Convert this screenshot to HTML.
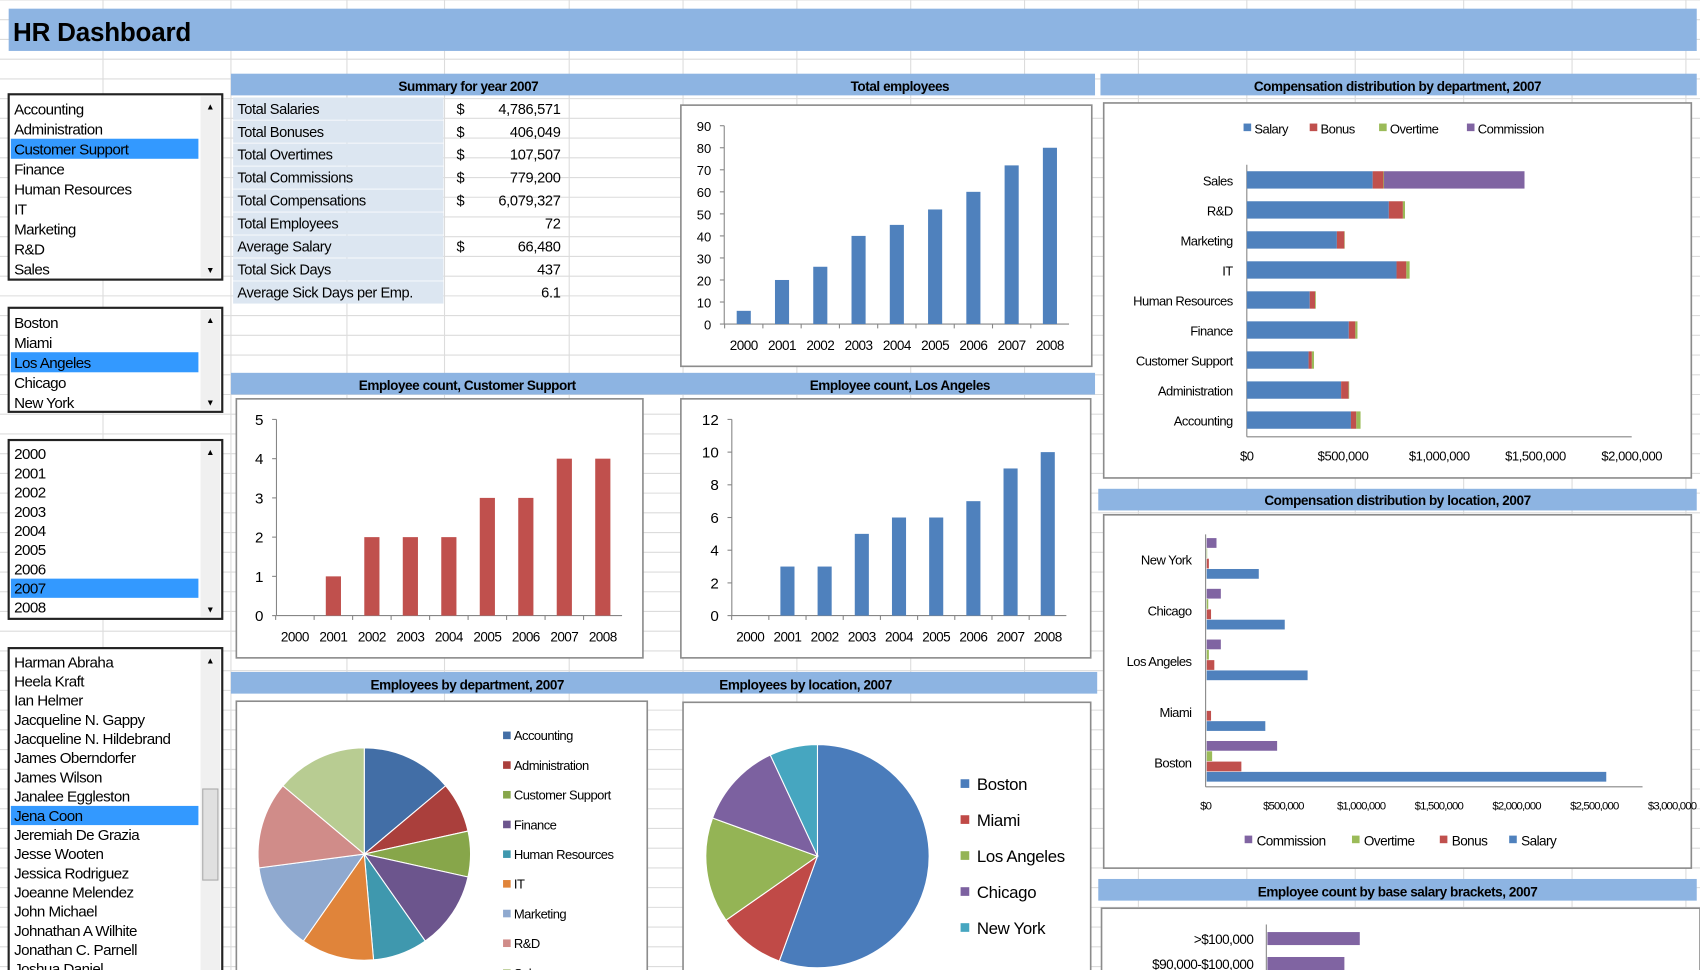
<!DOCTYPE html>
<html><head><meta charset="utf-8"><title>HR Dashboard</title>
<style>
html,body{margin:0;padding:0;background:#fff;overflow:hidden}
svg{display:block}
text{font-family:"Liberation Sans",sans-serif;fill:#000}
</style></head>
<body>
<svg id="root" width="1700" height="970" viewBox="0 0 1568 895" preserveAspectRatio="none" xmlns="http://www.w3.org/2000/svg"></svg>
<script>
// ---------- DATA ----------
const years = ['2000','2001','2002','2003','2004','2005','2006','2007','2008'];
const totalEmployees = [6,20,26,40,45,52,60,72,80];
const totalTicks = [0,10,20,30,40,50,60,70,80,90];
const csCounts = [0,1,2,2,2,3,3,4,4];
const csTicks = [0,1,2,3,4,5];
const laCounts = [0,3,3,5,6,6,7,9,10];
const laTicks = [0,2,4,6,8,10,12];
const depts = ['Sales','R&D','Marketing','IT','Human Resources','Finance','Customer Support','Administration','Accounting'];
const deptSalary = [654000,738000,468000,778000,327000,530000,321000,490000,541000];
const deptBonus = [56000,73000,39000,51000,28000,34000,17000,39000,28000];
const deptOvertime = [3000,11000,2000,17000,4000,11000,11000,3000,22000];
const deptCommission = [730000,0,0,0,0,0,0,0,0];
const deptTicks = ['$0','$500,000','$1,000,000','$1,500,000','$2,000,000'];
const locs = ['New York','Chicago','Los Angeles','Miami','Boston'];
const locSalary = [335000,502000,649000,377000,2570000];
const locBonus = [14000,28000,49000,28000,223000];
const locOvertime = [3000,10000,14000,0,35000];
const locCommission = [63000,91000,91000,0,453000];
const locTicks = ['$0','$500,000','$1,000,000','$1,500,000','$2,000,000','$2,500,000','$3,000,000'];
const brackets = ['>$100,000','$90,000-$100,000'];
const bracketCounts = [12,10];
const pieDepts = ['Accounting','Administration','Customer Support','Finance','Human Resources','IT','Marketing','R&D','Sales'];
const pieDeptCounts = [10,5.5,5,8.5,6,8,9.5,9.5,10];
const pieLocs = ['Boston','Miami','Los Angeles','Chicago','New York'];
const pieLocCounts = [40,7,11,9,5];
const summaryLabels = ['Total Salaries','Total Bonuses','Total Overtimes','Total Commissions','Total Compensations','Total Employees','Average Salary','Total Sick Days','Average Sick Days per Emp.'];
const summaryValues = ['4,786,571','406,049','107,507','779,200','6,079,327','72','66,480','437','6.1'];
const summaryDollar = [true,true,true,true,true,false,true,false,false];

const C = {blue:'#4f81bd',red:'#c0504d',green:'#9bbb59',purple:'#8064a2',teal:'#4bacc6',orange:'#f79646',lblue:'#95b3d7',pink:'#d99694',lgreen:'#c3d69b',hdr:'#8db4e2'};
const pieDeptColors=['#426ea6','#aa3f3c','#87a64a','#6c558d','#3f98ae','#e0843a','#8fa9cf','#d08c89','#b8cc92'];
const pieLocColors=['#4a7cbb','#c04a47','#94b455','#7c61a0','#46a6c0'];

const NS='http://www.w3.org/2000/svg';
const root=document.getElementById('root');
function mk(tag,attrs,name,parent,inter){
  const el=document.createElementNS(NS,tag);
  for(const k in attrs) el.setAttribute(k,attrs[k]);
  
  
  (parent||root).appendChild(el);
  return el;
}
function txt(x,y,s,name,o,parent){
  o=o||{};
  const a={x:x,y:y,'font-size':o.fs||13};
  if(o.anchor) a['text-anchor']=o.anchor;
  if(o.bold) a['font-weight']='bold';
  if(o.fill) a.fill=o.fill;
  if(o.ls!==undefined) a['letter-spacing']=o.ls;
  const t=mk('text',a,name,parent,o.inter);
  t.textContent=s; return t;
}
// grid
const grid=mk('g',{},'sheet-grid',root);
for(let y=0;y<895;y+=18.2) mk('line',{x1:0,x2:1568,y1:y,y2:y,stroke:'#dcdcdc','stroke-width':1},'grid-row',grid);
[95,213,320,410,525,630,735,840,945,1050,1150,1250,1350,1450,1555].forEach(x=>mk('line',{x1:x,x2:x,y1:0,y2:895,stroke:'#dcdcdc','stroke-width':1},'grid-col',grid));

// title
mk('rect',{x:8,y:8,width:1557,height:39,fill:C.hdr},'title-bar');
txt(12,38,'HR Dashboard','dashboard-title',{fs:24,bold:true,ls:-0.2});

function hdr(x,w,y){
  mk('rect',{x:x,y:y,width:w,height:20,fill:C.hdr},'section-header-bar');
}
const H={fs:12.5,bold:true,anchor:'middle',ls:-0.4};
hdr(213,797,68); hdr(1015,550,68);
txt(432,84,'Summary for year 2007','summary-title',H);
txt(830,84,'Total employees','total-employees-title',H);
txt(1289,84,'Compensation distribution by department, 2007','dept-comp-title',H);
hdr(213,797,344);
txt(431,360,'Employee count, Customer Support','cs-count-title',H);
txt(830,360,'Employee count, Los Angeles','la-count-title',H);
hdr(1013,552,451);
txt(1289,466,'Compensation distribution by location, 2007','loc-comp-title',H);
hdr(213,799,620);
txt(431,636,'Employees by department, 2007','dept-pie-title',H);
txt(743,636,'Employees by location, 2007','loc-pie-title',H);
hdr(1013,552,811);
txt(1289,827,'Employee count by base salary brackets, 2007','bracket-title',H);

// listboxes
function listbox(name,y,h,items,sel,rowH,scrollThumb){
  const g=mk('g',{},name,root,true);
  mk('rect',{x:8,y:y,width:197,height:h,fill:'#fff',stroke:'#222','stroke-width':2},name+'-frame',g,true);
  mk('rect',{x:185,y:y+2,width:18,height:h-4,fill:'#f0f0f0'},name+'-scrollbar',g,true);
  txt(194,y+14,'▲',name+'-scroll-up',{fs:8,anchor:'middle',fill:'#555',inter:true},g);
  txt(194,y+h-6,'▼',name+'-scroll-down',{fs:8,anchor:'middle',fill:'#555',inter:true},g);
  if(scrollThumb) mk('rect',{x:187,y:scrollThumb[0],width:14,height:scrollThumb[1],fill:'#e0e0e0',stroke:'#aaa'},name+'-scroll-thumb',g,true);
  items.forEach((it,i)=>{
    const ty=y+4+i*rowH;
    if(i===sel) mk('rect',{x:10,y:ty,width:173,height:rowH,fill:'#3399ff'},name+'-selection',g,true);
    txt(13,ty+rowH-4,it,name+'-item',{fs:14,ls:-0.5,fill:i===sel?'#fff':'#000',inter:true},g);
  });
}
listbox('department-listbox',87,171,['Accounting','Administration','Customer Support','Finance','Human Resources','IT','Marketing','R&D','Sales'],2,18.5);
listbox('location-listbox',284,96,['Boston','Miami','Los Angeles','Chicago','New York'],2,18.5);
listbox('year-listbox',406,165,years,7,17.7);
listbox('employee-listbox',598,310,['Harman Abraha','Heela Kraft','Ian Helmer','Jacqueline N. Gappy','Jacqueline N. Hildebrand','James Oberndorfer','James Wilson','Janalee Eggleston','Jena Coon','Jeremiah De Grazia','Jesse Wooten','Jessica Rodriguez','Joeanne Melendez','John  Michael','Johnathan A Wilhite','Jonathan C. Parnell','Joshua Daniel'],8,17.7,[728,84]);

// summary table
const st=mk('g',{},'summary-table',root);
summaryLabels.forEach((l,i)=>{
  const y=90+i*21.2;
  mk('rect',{x:215,y:y,width:194,height:20.5,fill:'#dce6f1'},'summary-label-cell',st);
  txt(219,y+15,l,'summary-label',{fs:13.5,ls:-0.4},st);
  if(summaryDollar[i]) txt(421,y+15,'$','summary-dollar',{fs:13.5},st);
  txt(517,y+15,summaryValues[i],'summary-value',{fs:13.5,anchor:'end',ls:-0.3},st);
});

function box(x,y,w,h,name){ return mk('rect',{x:x,y:y,width:w,height:h,fill:'#fff',stroke:'#8c8c8c','stroke-width':1.5},name); }

function columnChart(name,bx,by,bw,bh,ax,y0,yTop,x0,dx,ticks,vals,color,bwid){
  box(bx,by,bw,bh,name+'-frame');
  const g=mk('g',{},name,root);
  const max=ticks[ticks.length-1];
  const ys=v=>y0-v*(y0-yTop)/max;
  const xs=i=>x0+i*dx;
  mk('line',{x1:ax,x2:ax,y1:yTop,y2:y0,stroke:'#868686'},name+'-y-axis',g);
  mk('line',{x1:ax,x2:xs(vals.length-1)+dx/2,y1:y0,y2:y0,stroke:'#868686'},name+'-x-axis',g);
  ticks.forEach(t=>{
    mk('line',{x1:ax-4,x2:ax,y1:ys(t),y2:ys(t),stroke:'#868686'},name+'-y-tick',g);
    txt(ax-12,ys(t)+5,String(t),name+'-y-tick-label',{fs:ticks.length>7?12:14,anchor:'end'},g);
  });
  years.forEach((yr,i)=>{
    mk('line',{x1:xs(i)-dx/2,x2:xs(i)-dx/2,y1:y0,y2:y0+4,stroke:'#868686'},name+'-x-tick',g);
    txt(xs(i),y0+24,yr,name+'-x-tick-label',{fs:12.5,anchor:'middle',ls:-0.5},g);
  });
  vals.forEach((v,i)=>{
    if(v>0) mk('rect',{x:xs(i)-bwid/2,y:ys(v),width:bwid,height:y0-ys(v),fill:color},name+'-bar-'+years[i],g);
  });
}
columnChart('total-employees-chart',628,97,379,241,668,299,116,686,35.3,totalTicks,totalEmployees,C.blue,13);
columnChart('cs-count-chart',218,368,375,239,255,568,387,272,35.5,csTicks,csCounts,C.red,14);
columnChart('la-count-chart',628,368,378,239,675,568,387,692,34.3,laTicks,laCounts,C.blue,13);

box(1018,95,542,346,'dept-comp-frame');
(function(){
  const g=mk('g',{},'dept-comp-chart',root);
  const x0=1150, x1=1505, maxV=2000000;
  const xs=v=>x0+v*(x1-x0)/maxV;
  const series=[deptSalary,deptBonus,deptOvertime,deptCommission];
  const cols=[C.blue,C.red,C.green,C.purple];
  const names=['Salary','Bonus','Overtime','Commission'];
  const lx=[1147,1208,1272,1353];
  names.forEach((n,i)=>{mk('rect',{x:lx[i],y:114,width:7,height:7,fill:cols[i]},'legend-swatch-'+n.toLowerCase(),g);txt(lx[i]+10,123,n,'legend-'+n.toLowerCase(),{fs:12,ls:-0.5},g);});
  mk('line',{x1:x0,x2:x0,y1:152,y2:403,stroke:'#868686'},'dept-y-axis',g);
  mk('line',{x1:x0,x2:x1,y1:403,y2:403,stroke:'#868686'},'dept-x-axis',g);
  deptTicks.forEach((t,i)=>txt(x0+i*(x1-x0)/(deptTicks.length-1),425,t,'dept-x-tick-label',{fs:12,anchor:'middle',ls:-0.4},g));
  depts.forEach((d,i)=>{
    const cy=166+i*27.7;
    txt(1137,cy+5,d,'dept-label',{fs:12,anchor:'end',ls:-0.5},g);
    let acc=0;
    series.forEach((s,j)=>{
      if(s[i]>0) mk('rect',{x:xs(acc),y:cy-8,width:xs(acc+s[i])-xs(acc),height:16,fill:cols[j]},'dept-bar-'+names[j].toLowerCase(),g);
      acc+=s[i];
    });
  });
})();

box(1018,475,542,326,'loc-comp-frame');
(function(){
  const g=mk('g',{},'loc-comp-chart',root);
  const x0=1112, step=71.7;
  const xs=v=>x0+v/500000*step;
  mk('line',{x1:x0,x2:x0,y1:493,y2:726,stroke:'#868686'},'loc-y-axis',g);
  mk('line',{x1:x0,x2:1515,y1:726,y2:726,stroke:'#868686'},'loc-x-axis',g);
  locTicks.forEach((t,i)=>txt(x0+i*step,747,t,'loc-x-tick-label',{fs:10.5,anchor:'middle',ls:-0.8},g));
  const series=[locCommission,locOvertime,locBonus,locSalary];
  const cols=[C.purple,C.green,C.red,C.blue];
  const names=['Commission','Overtime','Bonus','Salary'];
  const off=[-15,-5.5,4,13.5];
  locs.forEach((l,i)=>{
    const cy=516+i*46.8;
    txt(1099,cy+5,l,'loc-label',{fs:12,anchor:'end',ls:-0.5},g);
    series.forEach((s,j)=>{
      if(s[i]>0) mk('rect',{x:x0+1,y:cy+off[j]-4.5,width:xs(s[i])-x0,height:9,fill:cols[j]},'loc-bar-'+names[j].toLowerCase(),g);
    });
  });
  const lx=[1148,1247,1328,1392];
  names.forEach((n,i)=>{mk('rect',{x:lx[i],y:771,width:7,height:7,fill:cols[i]},'loc-legend-swatch',g);txt(lx[i]+11,780,n,'loc-legend-'+n.toLowerCase(),{fs:12.5,ls:-0.5},g);});
})();

box(1016,838,552,70,'bracket-frame');
(function(){
  const g=mk('g',{},'bracket-chart',root);
  const x0=1168, px=7.1;
  mk('line',{x1:x0,x2:x0,y1:853,y2:895,stroke:'#868686'},'bracket-y-axis',g);
  brackets.forEach((b,i)=>{
    const cy=866+i*23;
    txt(1156,cy+5,b,'bracket-label',{fs:12.5,anchor:'end',ls:-0.5},g);
    mk('rect',{x:x0+1,y:cy-6,width:bracketCounts[i]*px,height:12,fill:C.purple},'bracket-bar',g);
  });
})();

function pie(name,cx,cy,r,vals,cols){
  const g=mk('g',{},name,root);
  const tot=vals.reduce((a,b)=>a+b,0);
  let a=0;
  vals.forEach((v,i)=>{
    const a0=a, a1=a+v/tot*2*Math.PI; a=a1;
    const p0=[cx+r*Math.sin(a0),cy-r*Math.cos(a0)], p1=[cx+r*Math.sin(a1),cy-r*Math.cos(a1)];
    const large=(a1-a0)>Math.PI?1:0;
    mk('path',{d:`M${cx},${cy} L${p0[0]},${p0[1]} A${r},${r} 0 ${large} 1 ${p1[0]},${p1[1]} Z`,fill:cols[i],stroke:'#fff','stroke-width':1},name+'-slice-'+i,g);
  });
}
box(218,647,379,260,'dept-pie-frame');
pie('dept-pie',336,788,98,pieDeptCounts,pieDeptColors);
pieDepts.forEach((d,i)=>{
  const y=679+i*27.4;
  mk('rect',{x:464,y:y-4,width:7,height:7,fill:pieDeptColors[i]},'dept-pie-legend-swatch');
  txt(474,y+4,d,'dept-pie-legend',{fs:12,ls:-0.5});
});
box(630,648,376,260,'loc-pie-frame');
pie('loc-pie',754,790,103,pieLocCounts,pieLocColors);
pieLocs.forEach((d,i)=>{
  const y=723+i*33.2;
  mk('rect',{x:886,y:y-4,width:8,height:8,fill:pieLocColors[i]},'loc-pie-legend-swatch');
  txt(901,y+6,d,'loc-pie-legend',{fs:15.5,ls:-0.3});
});
</script>
</body></html>
